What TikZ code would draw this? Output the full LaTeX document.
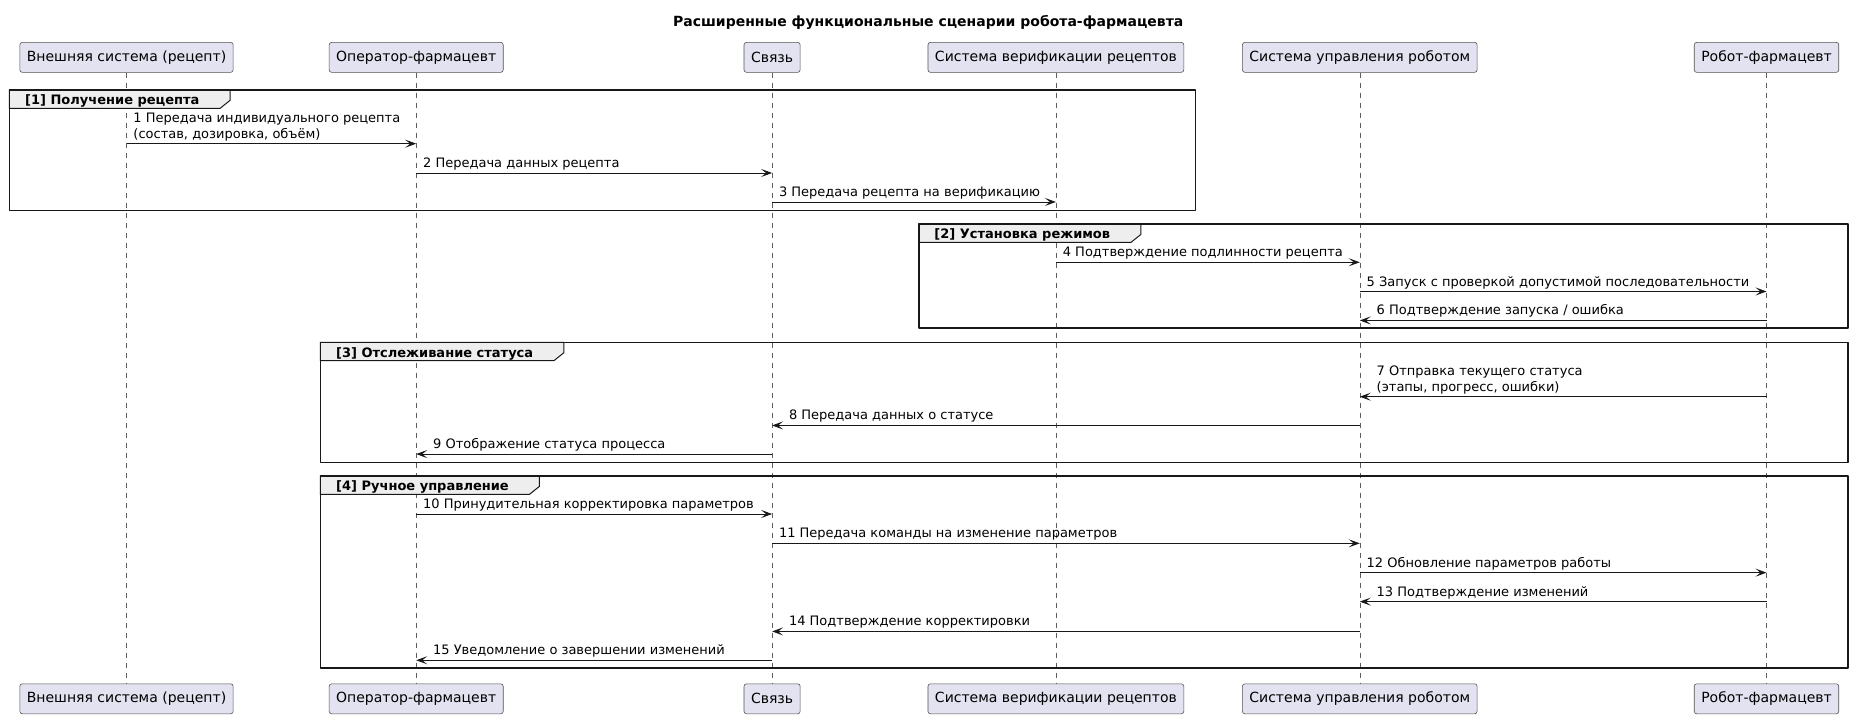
\documentclass[tikz,border=0pt]{standalone}
\usepackage{fontspec}
\setmainfont{DejaVu Sans}
\usetikzlibrary{arrows.meta, backgrounds}

\definecolor{partfill}{HTML}{E2E2F0}
\definecolor{tabfill}{HTML}{EEEEEE}
\definecolor{ink}{HTML}{181818}

\tikzset{
  part/.style={draw=ink!75, line width=0.6pt, fill=partfill, rounded corners=2.5pt,
    minimum height=30pt, inner xsep=7pt, inner ysep=0pt, font=\fontsize{14}{16}\selectfont},
  lifeline/.style={draw=ink!70, line width=0.5pt, dash pattern=on 5pt off 5pt},
  msg/.style={draw=ink, line width=0.9pt, -{Stealth[length=11pt, width=8pt, inset=5pt]}},
  lbl/.style={inner sep=0pt, text depth=0pt, anchor=south west, yshift=5pt, align=left,
    font=\fontsize{13}{15.5}\selectfont},
  lblR/.style={lbl, pos=0, xshift=6.5pt},
  lblL/.style={lbl, pos=1, xshift=16.5pt},
  frame/.style={draw=ink, line width=1.6pt},
  grplbl/.style={anchor=north west, inner xsep=15.5pt, inner ysep=0pt, minimum height=18pt,
    text height=11pt, text depth=0pt, font=\bfseries\fontsize{13}{15}\selectfont},
  tab/.style={draw=ink, line width=1pt, fill=tabfill},
}

\begin{document}
\begin{tikzpicture}[x=1.1824pt, y=-1.1824pt, line join=round]
  \useasboundingbox (0,0) rectangle (1568,608);

  % title
  \node[font=\bfseries\fontsize{14}{16}\selectfont] (title) at (785,19)
    {Расширенные функциональные сценарии робота-фармацевта};

  % participants (top)
  \node[part] (ext)   at (107,48.5)  {Внешняя система (рецепт)};
  \node[part] (oper)  at (352,48.5)  {Оператор-фармацевт};
  \node[part] (link)  at (653,48.5)  {Связь};
  \node[part] (verif) at (893,48.5)  {Система верификации рецептов};
  \node[part] (ctrl)  at (1150,48.5) {Система управления роботом};
  \node[part] (robot) at (1494,48.5) {Робот-фармацевт};

  % participants (bottom)
  \node[part] (extB)   at (107,591)  {Внешняя система (рецепт)};
  \node[part] (operB)  at (352,591)  {Оператор-фармацевт};
  \node[part] (linkB)  at (653,591)  {Связь};
  \node[part] (verifB) at (893,591)  {Система верификации рецептов};
  \node[part] (ctrlB)  at (1150,591) {Система управления роботом};
  \node[part] (robotB) at (1494,591) {Робот-фармацевт};

  % group frames
  \draw[frame] (8,76) rectangle (1011,178);
  \node[grplbl] (g1) at (8,76) {[1] Получение рецепта\hspace*{15pt}};
  \draw[frame] (777,189.5) rectangle (1563,277.5);
  \node[grplbl] (g2) at (777,189.5) {[2] Установка режимов\hspace*{15pt}};
  \draw[frame] (271,289.5) rectangle (1563,391);
  \node[grplbl] (g3) at (271,289.5) {[3] Отслеживание статуса\hspace*{15pt}};
  \draw[frame] (271,402.5) rectangle (1563,565);
  \node[grplbl] (g4) at (271,402.5) {[4] Ручное управление\hspace*{15pt}};

  % lifelines and tabs behind everything
  \begin{scope}[on background layer]
    \draw[lifeline] (ext) -- (extB);
    \draw[lifeline] (oper) -- (operB);
    \draw[lifeline] (link) -- (linkB);
    \draw[lifeline] (verif) -- (verifB);
    \draw[lifeline] (ctrl) -- (ctrlB);
    \draw[lifeline] (robot) -- (robotB);
    \foreach \g in {g1,g2,g3,g4}
      \draw[tab] (\g.north west) -- (\g.north east) -- ([yshift=8pt]\g.south east)
        -- ([xshift=-10pt]\g.south east) -- (\g.south west) -- cycle;
  \end{scope}

  % [1] receiving the prescription
  \draw[msg] (ext |- 0,121.5) -- (oper |- 0,121.5)
    node[lblR] {1 Передача индивидуального рецепта\\(состав, дозировка, объём)};
  \draw[msg] (oper |- 0,146.3) -- (link |- 0,146.3) node[lblR] {2 Передача данных рецепта};
  \draw[msg] (link |- 0,170.8) -- (verif |- 0,170.8) node[lblR] {3 Передача рецепта на верификацию};

  % [2] modes
  \draw[msg] (verif |- 0,221.8) -- (ctrl |- 0,221.8) node[lblR] {4 Подтверждение подлинности рецепта};
  \draw[msg] (ctrl |- 0,246.5) -- (robot |- 0,246.5) node[lblR] {5 Запуск с проверкой допустимой последовательности};
  \draw[msg] (robot |- 0,271) -- (ctrl |- 0,271) node[lblL] {6 Подтверждение запуска / ошибка};

  % [3] status tracking
  \draw[msg] (robot |- 0,335.5) -- (ctrl |- 0,335.5)
    node[lblL] {7 Отправка текущего статуса\\(этапы, прогресс, ошибки)};
  \draw[msg] (ctrl |- 0,359.8) -- (link |- 0,359.8) node[lblL] {8 Передача данных о статусе};
  \draw[msg] (link |- 0,384) -- (oper |- 0,384) node[lblL] {9 Отображение статуса процесса};

  % [4] manual control
  \draw[msg] (oper |- 0,434.7) -- (link |- 0,434.7) node[lblR] {10 Принудительная корректировка параметров};
  \draw[msg] (link |- 0,459.5) -- (ctrl |- 0,459.5) node[lblR] {11 Передача команды на изменение параметров};
  \draw[msg] (ctrl |- 0,484.3) -- (robot |- 0,484.3) node[lblR] {12 Обновление параметров работы};
  \draw[msg] (robot |- 0,508.8) -- (ctrl |- 0,508.8) node[lblL] {13 Подтверждение изменений};
  \draw[msg] (ctrl |- 0,534) -- (link |- 0,534) node[lblL] {14 Подтверждение корректировки};
  \draw[msg] (link |- 0,558.4) -- (oper |- 0,558.4) node[lblL] {15 Уведомление о завершении изменений};
\end{tikzpicture}
\end{document}
